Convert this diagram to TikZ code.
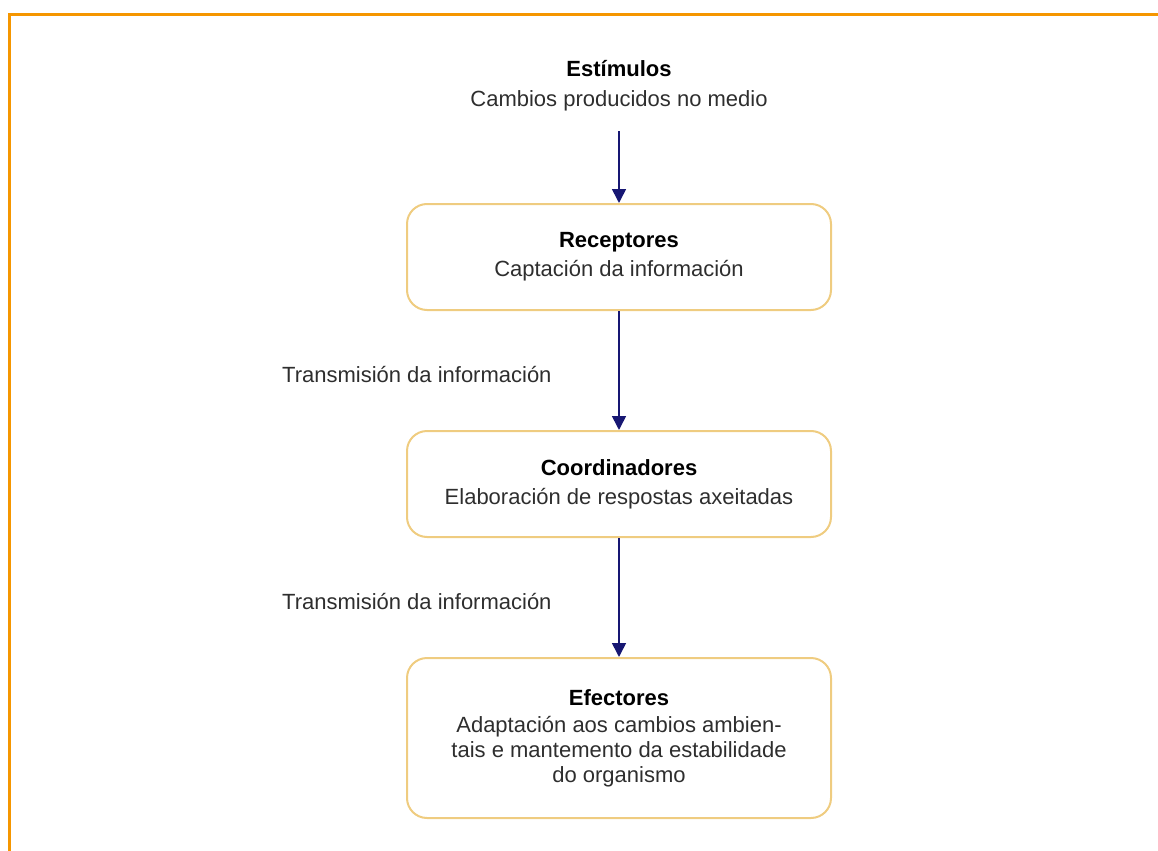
\documentclass[tikz,border=0pt]{standalone}
\usepackage{fontspec}
\setmainfont{Liberation Sans}
\usetikzlibrary{positioning,arrows.meta}

\begin{document}
\begin{tikzpicture}[x=0.5pt,y=-0.5pt,
    stage/.style={draw=box_edge,line width=1pt,rounded corners=10pt,minimum width=212pt,minimum height=53pt,align=center,text=body_text,font=\fontsize{11pt}{12.5pt}\selectfont},
    flow/.style={draw=flow_blue,line width=0.8pt,-{Triangle[width=7pt,length=7pt]},flow_blue},
    flow_label/.style={text=body_text,font=\fontsize{11pt}{13pt}\selectfont}]
    \definecolor{frame_orange}{rgb}{0.961, 0.588, 0.0}
    \definecolor{box_edge}{rgb}{0.937, 0.800, 0.502}
    \definecolor{flow_blue}{rgb}{0.090, 0.090, 0.451}
    \definecolor{body_text}{rgb}{0.18, 0.18, 0.18}
    \useasboundingbox (0,0) rectangle (1158,851);
    \draw[frame_orange,line width=1.5pt] (9,851) -- (9,14) -- (1158,14);

    \node[align=center,minimum height=45pt,inner sep=0,text=body_text,font=\fontsize{11pt}{15pt}\selectfont] (estim_text) at (619,86) {\textcolor{black}{\textbf{Estímulos}}\\Cambios producidos no medio};

    \node[stage] (recep_box) at (619,257) {\textcolor{black}{\textbf{Receptores}}\\[2pt]Captación da información};

    \node[stage] (coord_box) at (619,484) {\textcolor{black}{\textbf{Coordinadores}}\\[2pt]Elaboración de respostas axeitadas};

    \node[stage,minimum height=80pt] (efect_box) at (619,738) {\textcolor{black}{\textbf{Efectores}}\\[1pt]Adaptación aos cambios ambien-\\tais e mantemento da estabilidade\\do organismo};

    \draw[flow] (estim_text) -- (recep_box);
    \draw[flow] (recep_box) -- (coord_box) node[flow_label,midway,left=30pt,yshift=-2pt] (trans_text_1) {Transmisión da información};
    \draw[flow] (coord_box) -- (efect_box) node[flow_label,midway,left=30pt,yshift=-2pt] (trans_text_2) {Transmisión da información};
\end{tikzpicture}
\end{document}
